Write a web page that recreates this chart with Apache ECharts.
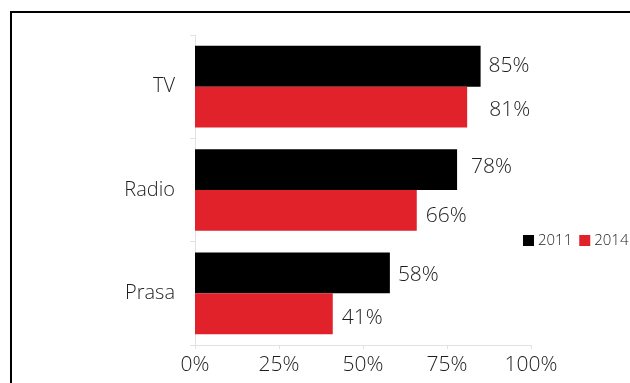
<!DOCTYPE html>
<html>
<head>
<meta charset="utf-8">
<script src="https://cdn.jsdelivr.net/npm/echarts@6/dist/echarts.min.js"></script>
<style>
html,body{margin:0;padding:0;background:#fff;}
#c{width:630px;height:383px;}
</style>
</head>
<body>
<div id="c"></div>
<script>
// Data
var categories = ['TV', 'Radio', 'Prasa'];
var seriesNames = ['2011', '2014'];
var values2011 = [85, 78, 58];
var values2014 = [81, 66, 41];
var xTicks = [0, 25, 50, 75, 100];

// Label fine-tuning (style only)
var labelOffsets2011 = [[0, 0], [6, -3], [0, 2]];
var labelOffsets2014 = [[13, 3], [0, 6], [0, 4]];

function toItems(vals, offs) {
  return vals.map(function (v, i) {
    return { value: v, label: { offset: offs[i] } };
  });
}

var font = "'Open Sans', 'Noto Sans', sans-serif";
var fw = 300;
var chart = echarts.init(document.getElementById('c'), null, { renderer: 'canvas' });
chart.setOption({
  animation: false,
  backgroundColor: '#fff',
  textStyle: { fontFamily: font, fontWeight: fw },
  graphic: [{
    type: 'rect',
    shape: { x: 11, y: 12, width: 700, height: 500 },
    style: { fill: 'none', stroke: '#000', lineWidth: 2 },
    silent: true
  }],
  legend: {
    data: seriesNames,
    orient: 'horizontal',
    left: 518,
    top: 228,
    width: 200,
    itemWidth: 11,
    itemHeight: 11,
    itemGap: 7,
    icon: 'rect',
    textStyle: { fontSize: 15, color: '#1e1e1e', fontFamily: font, fontWeight: fw, padding: [0, 0, 0, -1] }
  },
  grid: { left: 195, right: 99, top: 35, bottom: 38, containLabel: false },
  xAxis: {
    type: 'value',
    min: xTicks[0],
    max: xTicks[xTicks.length - 1],
    interval: xTicks[1] - xTicks[0],
    splitLine: { show: false },
    axisLine: { show: true, lineStyle: { color: '#e2e2e2', width: 1 } },
    axisTick: { show: true, length: 4, lineStyle: { color: '#e2e2e2' } },
    axisLabel: { formatter: '{value}%', fontSize: 21, color: '#1e1e1e', margin: 10, fontFamily: font, fontWeight: fw }
  },
  yAxis: {
    type: 'category',
    inverse: true,
    data: categories,
    axisLine: { show: true, lineStyle: { color: '#e2e2e2', width: 1 } },
    axisTick: { show: true, length: 5, lineStyle: { color: '#e2e2e2' } },
    axisLabel: { fontSize: 20, color: '#1e1e1e', margin: 20, fontFamily: font, fontWeight: fw }
  },
  series: [{
    name: seriesNames[0],
    type: 'bar',
    data: toItems(values2011, labelOffsets2011),
    barGap: '0%',
    barCategoryGap: '21%',
    itemStyle: { color: '#000' },
    label: { show: true, position: 'right', distance: 8, formatter: '{c}%', fontSize: 21, color: '#1e1e1e', fontFamily: font, fontWeight: fw }
  }, {
    name: seriesNames[1],
    type: 'bar',
    data: toItems(values2014, labelOffsets2014),
    barGap: '0%',
    barCategoryGap: '21%',
    itemStyle: { color: '#e1222a' },
    label: { show: true, position: 'right', distance: 9, formatter: '{c}%', fontSize: 21, color: '#1e1e1e', fontFamily: font, fontWeight: fw }
  }]
});
</script>
</body>
</html>
